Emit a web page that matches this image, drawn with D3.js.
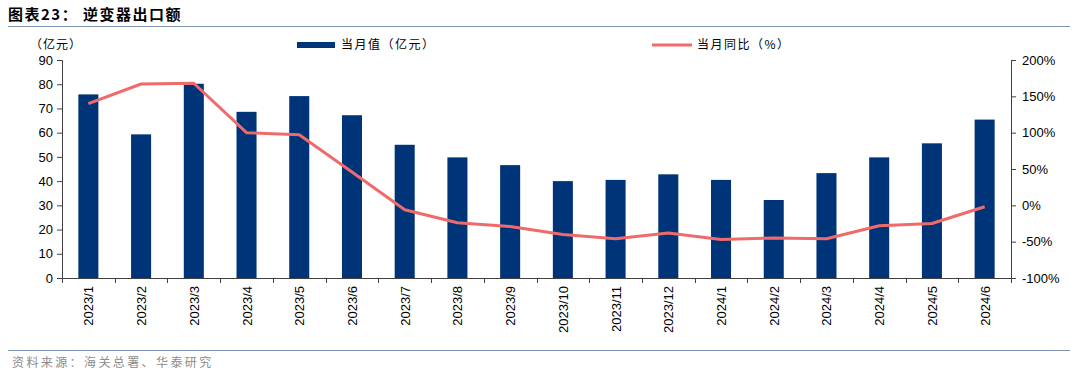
<!DOCTYPE html>
<html>
<head>
<meta charset="utf-8">
<script src="https://cdn.jsdelivr.net/npm/d3@7"></script>
<style>
  body { margin: 0; background: #fff; }
  svg { display: block; }
  text { font-family: "Liberation Sans", Arial, "Noto Sans CJK SC", sans-serif; }
  .cjk { font-family: "Noto Sans CJK SC", sans-serif; }
</style>
</head>
<body>
<svg id="chart"></svg>
<script>
var months = ["2023/1","2023/2","2023/3","2023/4","2023/5","2023/6","2023/7","2023/8","2023/9",
              "2023/10","2023/11","2023/12","2024/1","2024/2","2024/3","2024/4","2024/5","2024/6"];
var monthValue = [75.8, 59.3, 80.2, 68.6, 75.1, 67.2, 55.0, 49.8, 46.6,
                  40.0, 40.5, 42.8, 40.5, 32.2, 43.3, 49.8, 55.6, 65.4];
var yoyPct = [140, 167, 168, 100, 97, 46, -6, -24, -29,
              -40, -46, -38, -47, -45, -46, -28, -25, -2];
var leftTicks = [0, 10, 20, 30, 40, 50, 60, 70, 80, 90];
var rightTicks = [-100, -50, 0, 50, 100, 150, 200];

var W = 1080, H = 377;
var M = { top: 60, right: 69, bottom: 99, left: 62 };
var BAR = "#003478", LINE = "#ef6b6b";

var svg = d3.select("#chart").attr("width", W).attr("height", H);

// title + rules
svg.append("text").attr("class", "cjk")
    .attr("x", 8).attr("y", 20)
    .attr("font-size", 15).attr("font-weight", "bold").attr("fill", "#000")
    .attr("letter-spacing", 1.5)
    .text("图表23：  逆变器出口额");
svg.append("line").attr("x1", 8).attr("x2", 1070).attr("y1", 26.5).attr("y2", 26.5)
    .attr("stroke", "#7f93b5").attr("stroke-width", 1);
svg.append("line").attr("x1", 8).attr("x2", 1070).attr("y1", 350.5).attr("y2", 350.5)
    .attr("stroke", "#7f93b5").attr("stroke-width", 1);
svg.append("text").attr("class", "cjk")
    .attr("x", 12).attr("y", 367)
    .attr("font-size", 12).attr("fill", "#8c8c8c")
    .attr("letter-spacing", 2.4)
    .text("资料来源：海关总署、华泰研究");

var width = W - M.left - M.right;
var height = H - M.top - M.bottom;
var g = svg.append("g").attr("transform", "translate(" + M.left + "," + M.top + ")");

var x = d3.scaleBand().domain(months).range([0, width]).paddingInner(0.62).paddingOuter(0.31);
var yL = d3.scaleLinear().domain([0, 90]).range([height, 0]);
var yR = d3.scaleLinear().domain([-100, 200]).range([height, 0]);

// bars
g.selectAll(".bar").data(months).enter().append("rect")
    .attr("class", "bar")
    .attr("x", function(d) { return x(d); })
    .attr("width", x.bandwidth())
    .attr("y", function(d, i) { return yL(monthValue[i]); })
    .attr("height", function(d, i) { return height - yL(monthValue[i]); })
    .attr("fill", BAR);

// line
var line = d3.line()
    .x(function(d, i) { return x(months[i]) + x.bandwidth() / 2; })
    .y(function(d) { return yR(d); });
g.append("path").datum(yoyPct)
    .attr("d", line)
    .attr("fill", "none")
    .attr("stroke", LINE)
    .attr("stroke-width", 3)
    .attr("stroke-linejoin", "round");

// axes
var axL = g.append("g")
    .call(d3.axisLeft(yL).tickValues(leftTicks).tickSize(5).tickPadding(4));
var axR = g.append("g").attr("transform", "translate(" + width + ",0)")
    .call(d3.axisRight(yR).tickValues(rightTicks).tickSize(5).tickPadding(6)
        .tickFormat(function(d) { return d + "%"; }));

var step = width / months.length;
var axB = g.append("g").attr("transform", "translate(0," + height + ")");
axB.append("line").attr("x1", 0).attr("x2", width).attr("y1", 0.5).attr("y2", 0.5)
    .attr("stroke", "#404040");
axB.selectAll(".xt").data(d3.range(months.length + 1)).enter().append("line")
    .attr("x1", function(i) { return Math.round(i * step) + 0.5; })
    .attr("x2", function(i) { return Math.round(i * step) + 0.5; })
    .attr("y1", 0).attr("y2", 5)
    .attr("stroke", "#404040");
axB.selectAll(".xl").data(months).enter().append("text")
    .attr("transform", function(d) {
        return "translate(" + (x(d) + x.bandwidth() / 2 + 5) + ",8) rotate(-90)";
    })
    .attr("text-anchor", "end")
    .attr("font-size", 13)
    .attr("fill", "#000")
    .text(function(d) { return d; });

[axL, axR].forEach(function(a) {
    a.select(".domain").attr("stroke", "#404040");
    a.selectAll(".tick line").attr("stroke", "#404040");
    a.selectAll(".tick text").attr("font-size", 13).attr("fill", "#000")
        .style("font-family", "Liberation Sans, Arial, sans-serif");
});

// unit + legend
svg.append("text").attr("class", "cjk")
    .attr("x", 30).attr("y", 49)
    .attr("font-size", 12).attr("fill", "#000")
    .attr("letter-spacing", 1)
    .text("（亿元）");
svg.append("rect").attr("x", 297).attr("y", 42).attr("width", 38).attr("height", 6).attr("fill", BAR);
svg.append("text").attr("class", "cjk")
    .attr("x", 341).attr("y", 49)
    .attr("font-size", 12).attr("fill", "#000")
    .attr("letter-spacing", 1.5)
    .text("当月值（亿元）");
svg.append("line").attr("x1", 652).attr("x2", 692).attr("y1", 45).attr("y2", 45)
    .attr("stroke", LINE).attr("stroke-width", 3);
svg.append("text").attr("class", "cjk")
    .attr("x", 697).attr("y", 49)
    .attr("font-size", 12).attr("fill", "#000")
    .attr("letter-spacing", 1.5)
    .text("当月同比（%）");
</script>
</body>
</html>
